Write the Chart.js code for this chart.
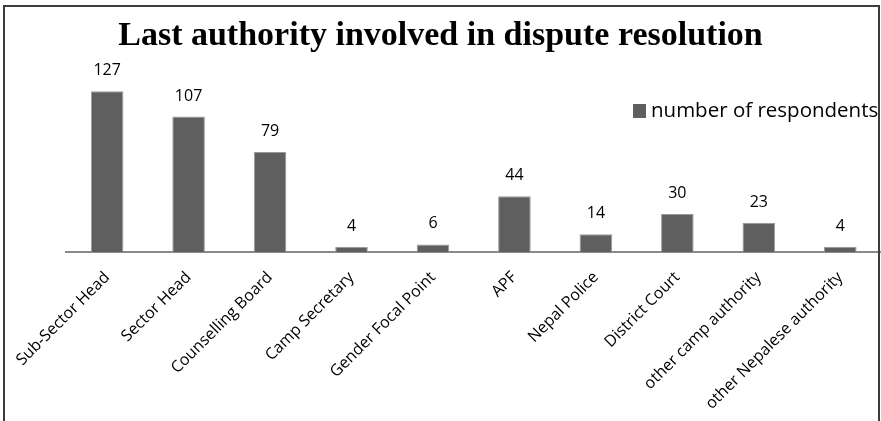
<!DOCTYPE html>
<html>
<head>
<meta charset="utf-8">
<script src="https://cdn.jsdelivr.net/npm/chart.js@4.4.1/dist/chart.umd.min.js"></script>
<style>
  html, body { margin: 0; padding: 0; background: #fff; }
  #wrap { position: relative; width: 881px; height: 421px; overflow: hidden; }
  #frame { position: absolute; left: 3px; top: 5px; width: 873px; height: 430px;
           border: 2px solid #3c3c3c; border-bottom: none; pointer-events: none; }
  canvas { position: absolute; left: 0; top: 0; }
</style>
</head>
<body>
<div id="wrap">
  <canvas id="chart" width="881" height="421"></canvas>
  <div id="frame"></div>
</div>
<script>
// data
const categories = ["Sub-Sector Head", "Sector Head", "Counselling Board", "Camp Secretary",
    "Gender Focal Point", "APF", "Nepal Police", "District Court",
    "other camp authority", "other Nepalese authority"];
const respondents = [127, 107, 79, 4, 6, 44, 14, 30, 23, 4];
const seriesName = "number of respondents";
const chartTitle = "Last authority involved in dispute resolution";

const barColor = "#5f5f5f";
const labelFont = "'Open Sans', sans-serif";

// numbers over the bars
const valueLabels = {
    id: "valueLabels",
    afterDatasetsDraw(chart) {
        const ctx = chart.ctx;
        const meta = chart.getDatasetMeta(0);
        ctx.save();
        ctx.font = "16px " + labelFont;
        ctx.fillStyle = "#000";
        ctx.textAlign = "center";
        ctx.textBaseline = "alphabetic";
        meta.data.forEach(function (bar, i) {
            ctx.fillText(chart.data.datasets[0].data[i], bar.x, bar.y - 16);
        });
        ctx.restore();
    }
};

// legend inside the plot, top right
const innerLegend = {
    id: "innerLegend",
    afterDraw(chart) {
        const ctx = chart.ctx;
        const ds = chart.data.datasets[0];
        ctx.save();
        ctx.fillStyle = ds.backgroundColor;
        ctx.fillRect(633, 104, 13, 14);
        ctx.font = "20.5px " + labelFont;
        ctx.fillStyle = "#000";
        ctx.textAlign = "left";
        ctx.textBaseline = "middle";
        ctx.fillText(ds.label, 651, 111);
        ctx.restore();
    }
};

new Chart(document.getElementById("chart"), {
    type: "bar",
    data: {
        labels: categories,
        datasets: [{
            label: seriesName,
            data: respondents,
            backgroundColor: barColor,
            borderColor: "#9a9a9a",
            borderWidth: 1,
            barPercentage: 0.4,
            categoryPercentage: 1.0
        }]
    },
    options: {
        responsive: false,
        animation: false,
        layout: { padding: 0 },
        plugins: {
            legend: { display: false },
            tooltip: { enabled: false },
            title: {
                display: true,
                text: chartTitle,
                color: "#000",
                font: { family: "'Liberation Serif', serif", size: 34, weight: "bold" },
                padding: { top: 16, bottom: 18 }
            }
        },
        scales: {
            x: {
                grid: { display: false, drawTicks: false },
                border: { display: true, color: "#8a8a8a", width: 2 },
                ticks: {
                    color: "#000",
                    font: { family: labelFont, size: 16 },
                    minRotation: 45,
                    maxRotation: 45,
                    padding: 16
                },
                afterFit(scale) { scale.height = 169; }
            },
            y: {
                // hidden axis, only keeps the gap on the left
                display: true,
                min: 0,
                max: 140,
                grid: { display: false, drawTicks: false },
                border: { display: false },
                ticks: { display: false },
                afterFit(scale) { scale.width = 63; }
            }
        }
    },
    plugins: [valueLabels, innerLegend]
});
</script>
</body>
</html>
